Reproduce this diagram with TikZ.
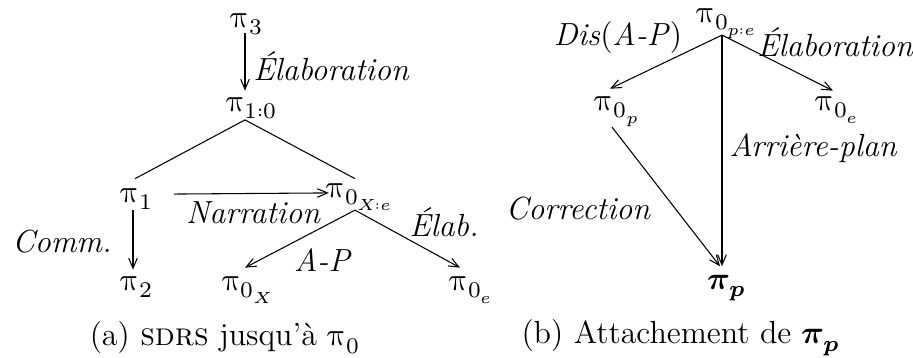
\documentclass[tikz,border=0pt,12pt]{standalone}
\usepackage{unicode-math}
\setmathfont{Latin Modern Math}
\usetikzlibrary{calc,arrows.meta}
\tikzset{
  lbl/.style={font=\itshape, inner sep=0pt},
  pnode/.style={inner sep=0pt, anchor=base},
  captext/.style={inner sep=0pt},
  arr/.style={-{Straight Barb[length=3.8pt,width=3.2pt]}},
}
\begin{document}
\begin{tikzpicture}[x=0.375pt,y=-0.375pt,line width=0.4pt]
\useasboundingbox (0,0) rectangle (913,358);
% (a)
\node[pnode] (p3) at (247,27) {$\uppi_3$};
\node[pnode] (p10) at (252,111) {$\uppi_{1:0}$};
\node[pnode] (p1) at (137,202) {$\uppi_1$};
\node[pnode] (p2) at (137,290) {$\uppi_2$};
\node[pnode] (pXe) at (360,197) {$\uppi_{0_{X:e}}$};
\node[pnode] (pX) at (248,290) {$\uppi_{0_X}$};
\node[pnode] (pe) at (472,290) {$\uppi_{0_e}$};

\draw[arr] ($(p3.south)+(-2,-3)$) -- ($(p10.north)+(-7,-6)$);
\draw ($(p10.south)+(-7,0)$) -- ($(p1.north)+(-2,-9)$);
\draw ($(p10.south)+(-7,0)$) -- ($(pXe.north)+(-5,-4)$);
\draw[arr] ($(p1.east)+(20,-5)$) -- ($(pXe.west)+(3,-4)$);
\draw[arr] ($(p1.south)+(-4,0)$) -- ($(p2.north)+(-4,-6)$);
\draw[arr] ($(pXe.south)+(-5,-1)$) -- ($(pX.north)+(-3,-8)$);
\draw[arr] ($(pXe.south)+(-5,-1)$) -- ($(pe.north)+(-12,-8)$);

\node[lbl] (l1) at (331,66) {Élaboration};
\node[lbl] (l2) at (253,213) {Narration};
\node[lbl] (l3) at (62,242) {Comm.};
\node[lbl] (l4) at (322,260) {A-P};
\node[lbl] (l5) at (444,222) {Élab.};
\node[captext] (ca) at (225,338) {(a) \textsc{sdrs} jusqu'à $\uppi_0$};

% (b)
\node[pnode] (q) at (727,22) {$\uppi_{0_{p:e}}$};
\node[pnode] (qp) at (618,110) {$\uppi_{0_p}$};
\node[pnode] (qe) at (838,110) {$\uppi_{0_e}$};
\node[pnode] (pp) at (727,289) {$\symbfit{\pi}_{\symbfit{p}}$};

\draw[arr] ($(q.south)+(-5,-4)$) -- ($(qp.north)+(-8,-7)$);
\draw[arr] ($(q.south)+(-5,-4)$) -- ($(qe.north)+(-5,-5)$);
\draw[arr] ($(q.south)+(-5,-4)$) -- ($(pp.north)+(-5,-8)$);
\draw[arr] ($(qp.south)+(-6,0)$) -- ($(pp.north)+(-7,-8)$);

\node[lbl] (m1) at (618,38) {Dis\textup{(}A-P\textup{)}};
\node[lbl] (m2) at (835,42) {Élaboration};
\node[lbl] (m3) at (813,148) {Arrière-plan};
\node[lbl] (m4) at (578,209) {Correction};
\node[captext] (cb) at (681,338) {(b) Attachement de $\symbfit{\pi}_{\symbfit{p}}$};
\end{tikzpicture}
\end{document}
